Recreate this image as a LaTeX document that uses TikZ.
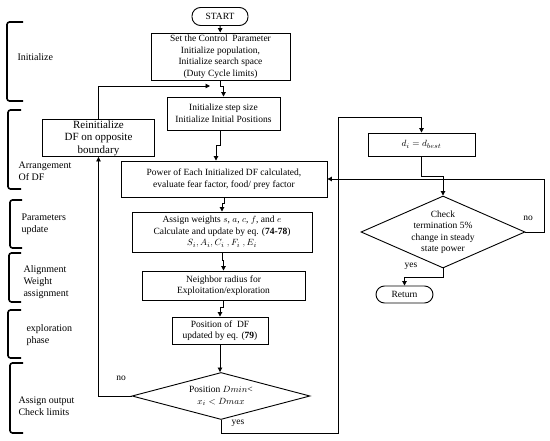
\documentclass[tikz,border=0pt]{standalone}
\usepackage{fontspec}
\setmainfont{Liberation Serif}
\usetikzlibrary{arrows.meta,shapes.geometric}
\tikzset{
  box/.style={draw, line width=0.9pt, inner sep=1pt, align=center, font=\fontsize{9.5}{11.5}\selectfont},
  term/.style={box, rounded corners=8.5pt},
  dia/.style={draw, line width=0.9pt, diamond, inner sep=0pt},
  dtext/.style={align=center, font=\fontsize{9.5}{11.5}\selectfont},
  arr/.style={line width=0.9pt, -{Triangle[length=4.5pt,width=4.5pt]}},
  lab/.style={font=\fontsize{9.5}{11.5}\selectfont},
  brk/.style={line width=1.6pt, rounded corners=2.5pt},
  side/.style={anchor=west, align=left, font=\fontsize{10}{12}\selectfont}
}
\begin{document}
\begin{tikzpicture}[x=1pt,y=-1pt]
\useasboundingbox (0,0) rectangle (550,441);
% nodes
\node[term, minimum width=56pt, minimum height=18pt] (start) at (220,16.5) {START};
\node[box, minimum width=139pt, minimum height=47pt] (b1) at (220.5,56.5) {Set the Control\ \ Parameter\\Initialize population,\\Initialize search space\\(Duty Cycle limits)};
\node[box, minimum width=113pt, minimum height=33pt] (b2) at (223.5,113.5) {Initialize step size\\Initialize Initial Positions};
\node[box, minimum width=112pt, minimum height=37pt, font=\fontsize{11}{12.5}\selectfont] (re) at (98.5,138) {Reinitialize\\DF on opposite\\boundary};
\node[box, minimum width=206pt, minimum height=36pt] (b3) at (224,179) {Power of Each Initialized DF calculated,\\evaluate fear factor, food/ prey factor};
\node[box, minimum width=180pt, minimum height=40pt] (b4) at (222,232) {Assign weights $s$, $a$, $c$, $f$, and $e$\\Calculate and update by eq. (\textbf{74-78})\\$S_i, A_i, C_i\ , F_i\ , E_i$};
\node[box, minimum width=163pt, minimum height=29pt] (b5) at (223.5,285.5) {Neighbor radius for\\Exploitation/exploration};
\node[box, minimum width=96pt, minimum height=27pt] (b6) at (220,330.5) {Position of\ \ DF\\updated by eq. (\textbf{79})};
\node[dia, minimum width=178pt, minimum height=47pt] (d1) at (221,396) {};
\node[dtext] (d1t) at (221,396) {Position $Dmin$<\\$x_i < Dmax$};
\node[box, minimum width=107pt, minimum height=23pt] (db) at (421.5,144.5) {$d_i = d_{best}$};
\node[dia, minimum width=164pt, minimum height=72pt] (d2) at (443,232) {};
\node[dtext] (d2t) at (443,232) {Check\\termination 5\%\\change in steady\\state power};
\node[term, minimum width=57pt, minimum height=17pt] (ret) at (404.5,294.5) {Return};
\coordinate (jr) at (210,86);
\coordinate (lp) at (338,117);
% connectors
\draw[arr] (start) -- (b1);
\draw[arr] (b1.south) -- ++(0,6.5) -| (b2.north);
\draw[arr] (re.north) |- (jr);
\draw[arr] ([xshift=-3.5pt]b2.south) -- ++(0,15) -| ([xshift=-8pt]b3.north);
\draw[arr] (b3.south) -- ++(0,6) -| (b4.north);
\draw[arr] (b4.south) -- ++(0,8) -| (b5.north);
\draw[arr] (b5.south) -- ++(0,7) -| (b6.north);
\draw[arr] (b6.south) -- (b6.south |- d1.north);
\draw[arr] (d1.west) -| (re.south);
\draw[arr] (d1.south) -- ++(0,14) -| (lp) -| (db.north);
\draw[arr] (db.south) -- ++(0,20) -| (d2.north);
\draw[arr] (d2.east) -- ++(19,0) |- (b3.east);
\draw[arr] (d2.south) -- ++(0,9) -| (ret.north);
% labels
\node[lab] (n1) at (121,378) {no};
\node[lab] (y1) at (238,423) {yes};
\node[lab] (n2) at (528,218) {no};
\node[lab] (y2) at (411,266) {yes};
% side brackets
\draw[brk] (23,22) -- (7,22) -- (7,101) -- (23,101);
\draw[brk] (21,110) -- (8,110) -- (8,189) -- (21,189);
\draw[brk] (22,200) -- (10,200) -- (10,248) -- (22,248);
\draw[brk] (21,253) -- (9,253) -- (9,302) -- (21,302);
\draw[brk] (21,310) -- (8,310) -- (8,358) -- (21,358);
\draw[brk] (23,363) -- (10,363) -- (10,433) -- (23,433);
\node[side] (s1) at (14,57) {Initialize};
\node[side] (s2) at (15,171) {Arrangement\\Of DF};
\node[side] (s3) at (18,224) {Parameters\\update};
\node[side] (s4) at (20,282) {Alignment\\Weight\\assignment};
\node[side] (s5) at (23,335) {exploration\\phase};
\node[side] (s6) at (15,406) {Assign output\\Check limits};
\end{tikzpicture}
\end{document}
